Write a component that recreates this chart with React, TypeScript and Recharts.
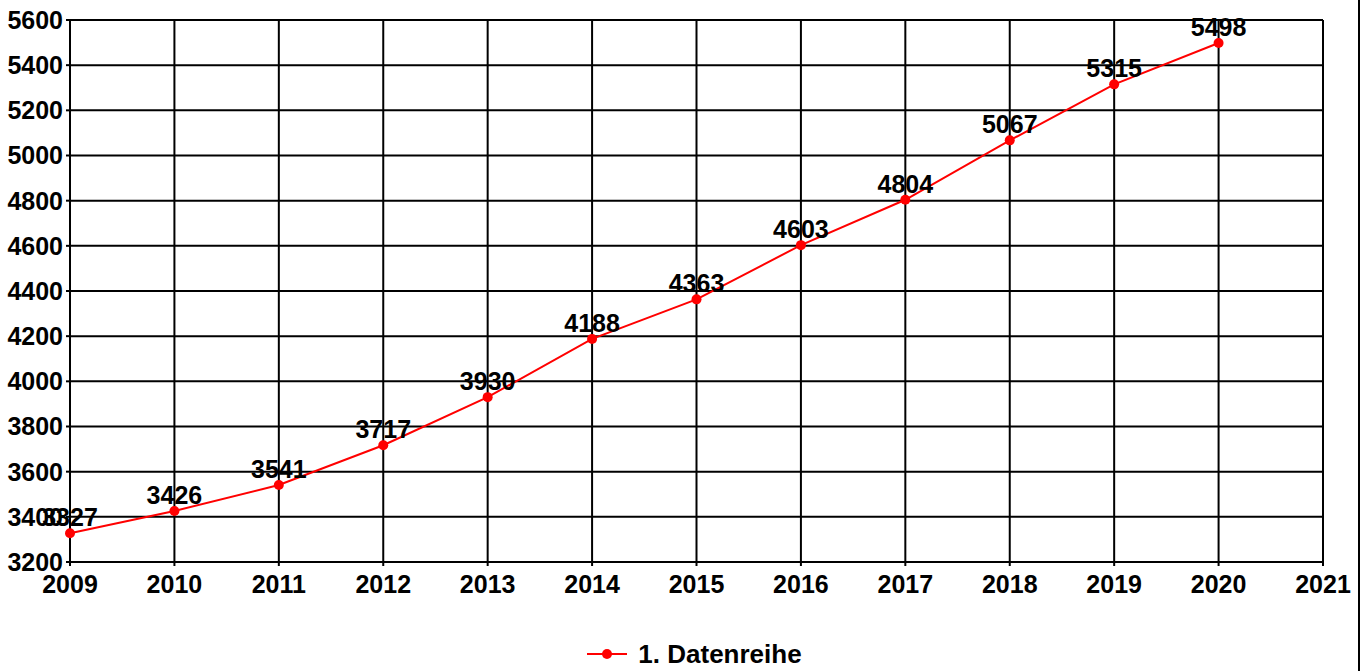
import { LineChart, Line, XAxis, YAxis, CartesianGrid, Legend, LabelList } from 'recharts'

const years = [2009, 2010, 2011, 2012, 2013, 2014, 2015, 2016, 2017, 2018, 2019, 2020]
const values = [3327, 3426, 3541, 3717, 3930, 4188, 4363, 4603, 4804, 5067, 5315, 5498]
const xTicks = [2009, 2010, 2011, 2012, 2013, 2014, 2015, 2016, 2017, 2018, 2019, 2020, 2021]
const yTicks = [3200, 3400, 3600, 3800, 4000, 4200, 4400, 4600, 4800, 5000, 5200, 5400, 5600]
const seriesName = '1. Datenreihe'

const data = years.map((year, i) => ({ year, value: values[i] }))

const font = '"Liberation Sans", Arial, sans-serif'
const tickStyle = { fontSize: 25, fontWeight: 700, fill: '#000', fontFamily: font }

// legend sits a bit right of centre in the original
const LegendContent = () => (
  <div style={{ display: 'flex', justifyContent: 'center', alignItems: 'center', fontFamily: font, height: 30, paddingLeft: 66 }}>
    <svg width={40} height={12} style={{ marginRight: 11 }}>
      <line x1={0} y1={6} x2={40} y2={6} stroke="#ff0000" strokeWidth={2} />
      <circle cx={20} cy={6} r={5} fill="#ff0000" />
    </svg>
    <span style={{ fontSize: 26, fontWeight: 700, color: '#000' }}>{seriesName}</span>
  </div>
)

export default function App() {
  return (
    <div style={{ position: 'absolute', left: 0, top: 0, width: 1358, height: 671, borderRight: '2px solid #000', background: '#fff' }}>
      <LineChart width={1358} height={671} data={data} margin={{ top: 20, right: 35, bottom: 2, left: 0 }}>
        <CartesianGrid stroke="#000" strokeWidth={2} verticalValues={xTicks} horizontalValues={yTicks} />
        <XAxis
          dataKey="year"
          type="number"
          domain={[2009, 2021]}
          ticks={xTicks}
          interval={0}
          height={77}
          tickSize={4}
          tickMargin={9}
          stroke="#000"
          strokeWidth={2}
          tick={tickStyle}
        />
        <YAxis
          domain={[3200, 5600]}
          ticks={yTicks}
          interval={0}
          width={70}
          tickSize={4}
          tickMargin={3}
          stroke="#000"
          strokeWidth={2}
          tick={tickStyle}
        />
        <Legend verticalAlign="bottom" height={30} content={<LegendContent />} />
        <Line
          dataKey="value"
          name={seriesName}
          stroke="#ff0000"
          strokeWidth={2}
          dot={{ r: 5, fill: '#ff0000', stroke: '#ff0000', strokeWidth: 0 }}
          isAnimationActive={false}
        >
          <LabelList dataKey="value" position="top" offset={7} style={{ ...tickStyle }} />
        </Line>
      </LineChart>
    </div>
  )
}
